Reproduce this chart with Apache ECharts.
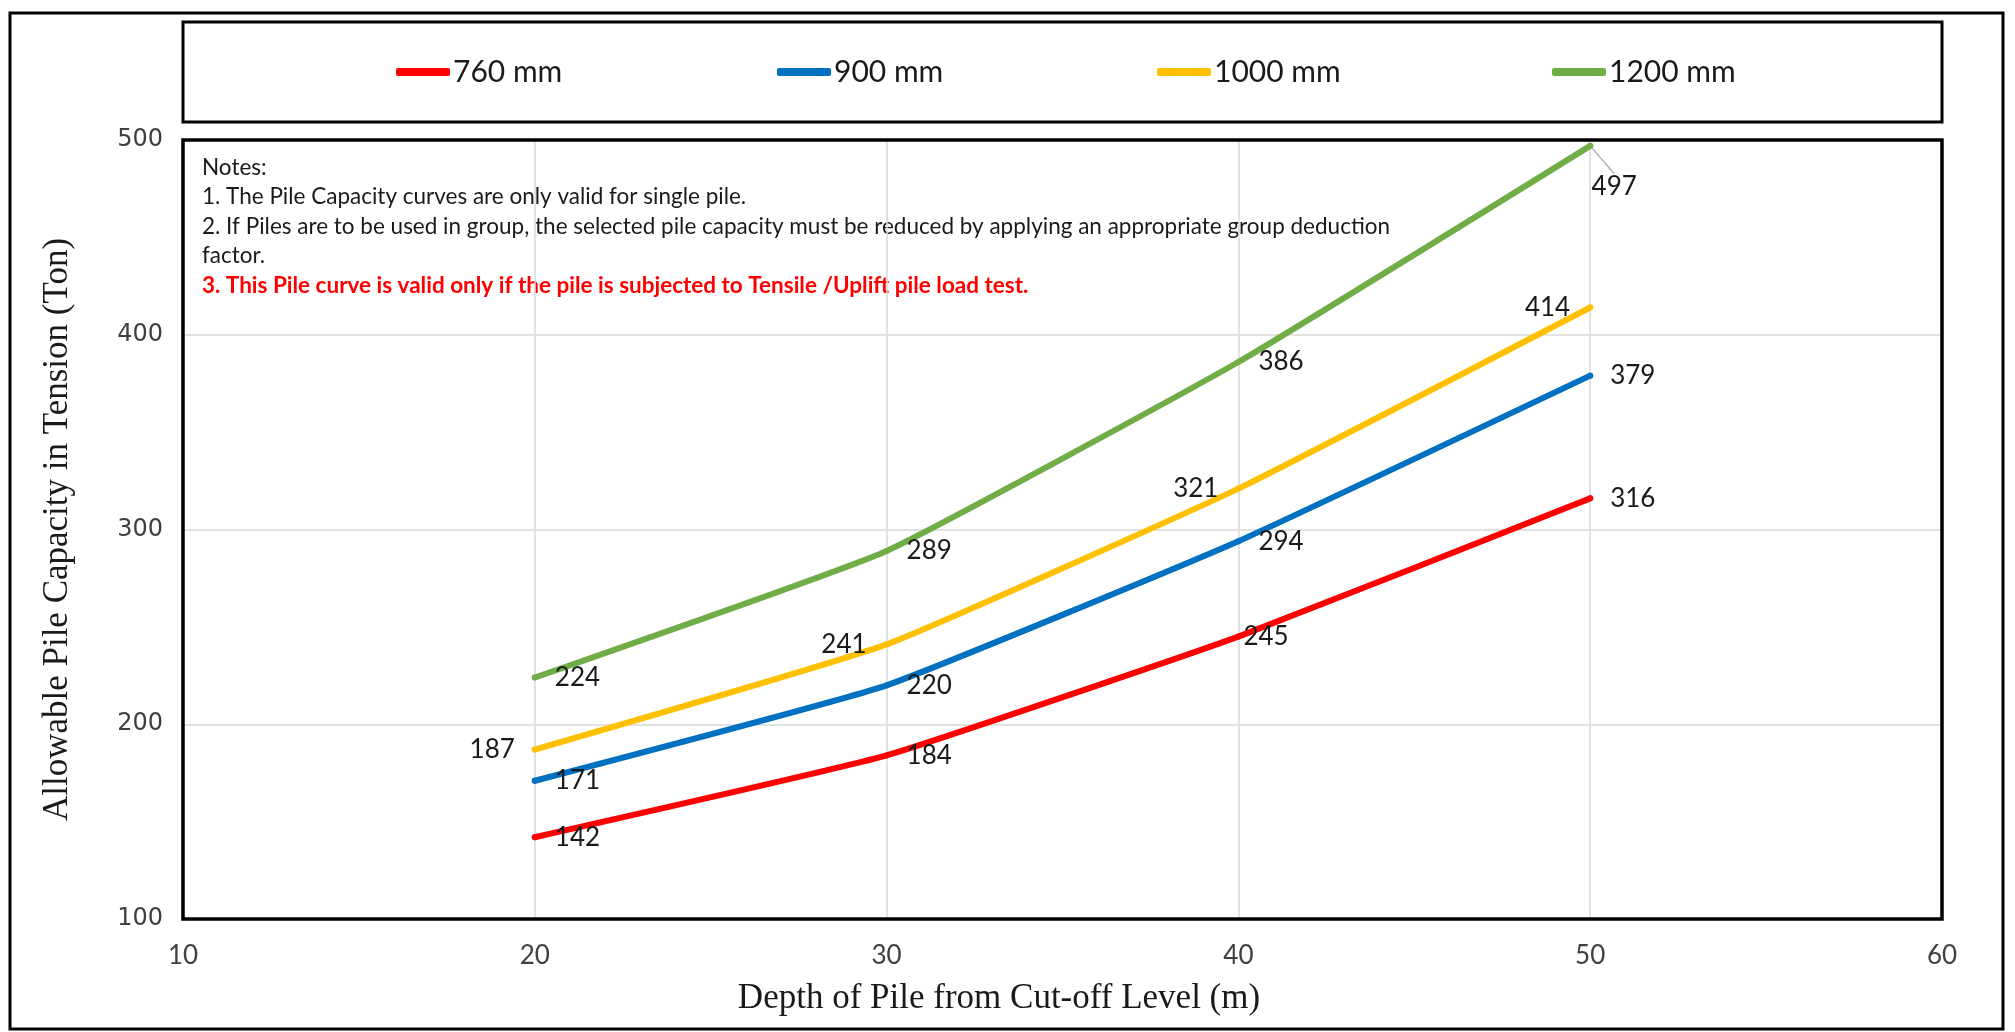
<!DOCTYPE html>
<html>
<head>
<meta charset="utf-8">
<script src="https://cdn.jsdelivr.net/npm/echarts@6/dist/echarts.min.js"></script>
<style>
  html, body { margin: 0; padding: 0; background: #fff; }
  #chart { width: 2015px; height: 1032px; }
</style>
</head>
<body>
<div id="chart"></div>
<script>
// depths (m)
const depths = [20, 30, 40, 50];

// pile capacity in tension (Ton) per pile diameter
const pile760 = [142, 184, 245, 316];
const pile900 = [171, 220, 294, 379];
const pile1000 = [187, 241, 321, 414];
const pile1200 = [224, 289, 386, 497];

const seriesNames = ['760 mm', '900 mm', '1000 mm', '1200 mm'];
const seriesColors = ['#FF0000', '#0070C0', '#FFC000', '#70AD47'];
const labelSides = ['right', 'right', 'left', 'right'];

const notes = [
  'Notes:',
  '1. The Pile Capacity curves are only valid for single pile.',
  '2. If Piles are to be used in group, the selected pile capacity must be reduced by applying an appropriate group deduction',
  'factor.'
];
const noteRed = '3. This Pile curve is valid only if the pile is subjected to Tensile /Uplift pile load test.';

const calibriLike = 'Lato, "Open Sans", sans-serif';
const serifFont = '"Liberation Serif", "Times New Roman", serif';

const chart = echarts.init(document.getElementById('chart'));

function buildSeries(name, values, idx) {
  const data = values.map((v, i) => [depths[i], v]);
  return {
    name: name,
    type: 'line',
    smooth: 0.12,
    symbol: 'circle',
    symbolSize: 6,
    showSymbol: true,
    data: data,
    lineStyle: { width: 6, color: seriesColors[idx], cap: 'round' },
    itemStyle: { color: seriesColors[idx] },
    label: {
      show: true,
      position: labelSides[idx],
      distance: 17,
      fontFamily: calibriLike,
      fontSize: 26,
      color: '#1a1a1a'
    },
    emphasis: { disabled: true },
    z: 2 + idx
  };
}

const series = [pile760, pile900, pile1000, pile1200].map((vals, i) => buildSeries(seriesNames[i], vals, i));

// 245 label sits tight against the line
series[0].data[2] = { value: series[0].data[2], label: { distance: 2 } };
// 497 label moved below-right with a leader line
series[3].data[3] = {
  value: series[3].data[3],
  label: { position: 'bottom' },
  labelLine: { show: true, lineStyle: { color: '#b0b0b0', width: 1.5 } }
};
series[3].labelLayout = function (p) {
  if (p.dataIndex === 3) return { dx: 24, dy: 8 };
  return {};
};

const legendLefts = [396, 777, 1157, 1552];

const option = {
  backgroundColor: '#fff',
  animation: false,
  title: {
    text: 'Depth of Pile from Cut-off Level (m)',
    left: 994,
    top: 976,
    textAlign: 'center',
    textStyle: {
      fontFamily: serifFont,
      fontSize: 35,
      fontWeight: 'normal',
      color: '#1a1a1a'
    }
  },
  legend: seriesNames.map((n, i) => ({
    data: [{ name: n, icon: 'roundRect' }],
    left: legendLefts[i],
    top: 57,
    itemWidth: 54,
    itemHeight: 8,
    itemGap: 4,
    padding: 0,
    selectedMode: false,
    textStyle: { fontFamily: calibriLike, fontSize: 30, color: '#1a1a1a', padding: [0, 0, 0, -2] }
  })),
  grid: {
    left: 183,
    right: 73,
    top: 140,
    bottom: 113,
    show: false
  },
  xAxis: {
    type: 'value',
    min: 10,
    max: 60,
    interval: 10,
    axisLine: { show: false },
    axisTick: { show: false },
    splitLine: { show: true, lineStyle: { color: '#d9d9d9', width: 1.5 } },
    axisLabel: {
      margin: 24,
      fontFamily: '"Liberation Sans Narrow", "Arial Narrow", Lato, sans-serif',
      fontSize: 26,
      color: '#404040'
    }
  },
  yAxis: {
    type: 'value',
    min: 100,
    max: 500,
    interval: 100,
    name: 'Allowable Pile Capacity in Tension (Ton)',
    nameLocation: 'middle',
    nameGap: 108,
    nameTextStyle: {
      fontFamily: serifFont,
      fontSize: 35,
      color: '#1a1a1a'
    },
    axisLine: { show: false },
    axisTick: { show: false },
    splitLine: { show: true, lineStyle: { color: '#d9d9d9', width: 1.5 } },
    axisLabel: {
      margin: 20,
      fontFamily: '"DejaVu Sans", Verdana, sans-serif',
      fontSize: 24,
      color: '#404040'
    }
  },
  graphic: [
    {
      type: 'rect',
      shape: { x: 10, y: 13, width: 1993, height: 1016 },
      style: { fill: null, stroke: '#000', lineWidth: 3 },
      z: 0
    },
    {
      type: 'rect',
      shape: { x: 183, y: 22, width: 1759, height: 100 },
      style: { fill: null, stroke: '#000', lineWidth: 3 },
      z: 0
    },
    {
      // plot area frame drawn on top of the split lines
      type: 'rect',
      shape: { x: 183, y: 140, width: 1759, height: 779 },
      style: { fill: null, stroke: '#000', lineWidth: 3.5 },
      z: 50
    },
    {
      type: 'group',
      left: 202,
      top: 156,
      children: notes.map((t, i) => ({
        type: 'text',
        x: 0,
        y: i * 29.5,
        style: { text: t, font: '22.5px ' + calibriLike, fill: '#1a1a1a' }
      })).concat([{
        type: 'text',
        x: 0,
        y: 4 * 29.5,
        style: { text: noteRed, font: 'bold 22.5px ' + calibriLike, fill: '#FF0000' }
      }])
    }
  ],
  series: series
};

chart.setOption(option);
</script>
</body>
</html>
